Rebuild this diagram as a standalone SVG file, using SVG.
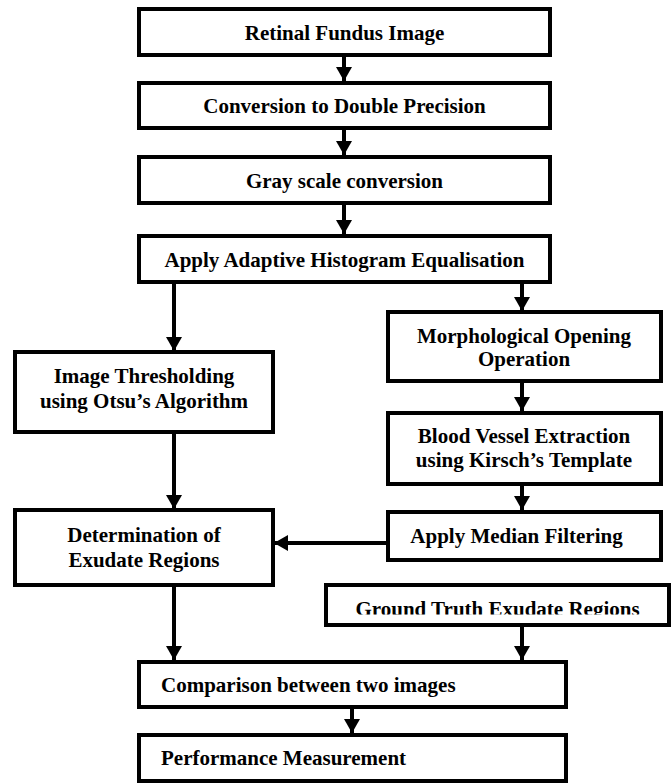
<svg xmlns="http://www.w3.org/2000/svg" width="672" height="784" viewBox="0 0 672 784">
<defs>
<style>
.box{fill:#fff;stroke:#000;stroke-width:4}
.t{font-family:"Liberation Serif","Times New Roman",serif;font-weight:bold;font-size:21px;fill:#000;text-anchor:middle}
.l{text-anchor:start}
.c{fill:none;stroke:#000;stroke-width:4}
</style>
<marker id="ah" viewBox="0 0 14 16" refX="14" refY="8" markerWidth="14" markerHeight="16" markerUnits="userSpaceOnUse" orient="auto">
<path d="M0,0 L14,8 L0,16 Z" fill="#000"/>
</marker>
<clipPath id="gclip"><rect x="326" y="585" width="343" height="29.5"/></clipPath>
</defs>
<rect width="672" height="784" fill="#fff"/>
<g id="connectors">
<line class="c" x1="344" y1="57" x2="344" y2="81" marker-end="url(#ah)"/>
<line class="c" x1="344" y1="130" x2="344" y2="155" marker-end="url(#ah)"/>
<line class="c" x1="344" y1="205" x2="344" y2="234" marker-end="url(#ah)"/>
<line class="c" x1="174" y1="284" x2="174" y2="351" marker-end="url(#ah)"/>
<line class="c" x1="522" y1="284" x2="522" y2="311" marker-end="url(#ah)"/>
<line class="c" x1="522" y1="383" x2="522" y2="411" marker-end="url(#ah)"/>
<line class="c" x1="522" y1="486" x2="522" y2="510" marker-end="url(#ah)"/>
<line class="c" x1="174" y1="434" x2="174" y2="509" marker-end="url(#ah)"/>
<line class="c" x1="388" y1="543" x2="274" y2="543" marker-end="url(#ah)"/>
<line class="c" x1="174" y1="586" x2="174" y2="660" marker-end="url(#ah)"/>
<line class="c" x1="522" y1="625" x2="522" y2="660" marker-end="url(#ah)"/>
<line class="c" x1="352" y1="709" x2="352" y2="733" marker-end="url(#ah)"/>
</g>
<g id="n1"><rect class="box" x="139" y="9" width="411" height="46"/><text class="t" x="344.5" y="40">Retinal Fundus Image</text></g>
<g id="n2"><rect class="box" x="139" y="83" width="411" height="45"/><text class="t" x="344.5" y="113">Conversion to Double Precision</text></g>
<g id="n3"><rect class="box" x="139" y="157" width="411" height="46"/><text class="t" x="344.5" y="188">Gray scale conversion</text></g>
<g id="n4"><rect class="box" x="139" y="236" width="411" height="46"/><text class="t" x="344.5" y="267">Apply Adaptive Histogram Equalisation</text></g>
<g id="n5"><rect class="box" x="15" y="352" width="258" height="80"/><text class="t" x="144" y="383">Image Thresholding</text><text class="t" x="144" y="408">using Otsu’s Algorithm</text></g>
<g id="n6"><rect class="box" x="388" y="312" width="273" height="69"/><text class="t" x="524" y="343">Morphological Opening</text><text class="t" x="524" y="366">Operation</text></g>
<g id="n7"><rect class="box" x="388" y="413" width="273" height="71"/><text class="t" x="524" y="443">Blood Vessel Extraction</text><text class="t" x="524" y="467">using Kirsch’s Template</text></g>
<g id="n8"><rect class="box" x="388" y="512" width="273" height="48"/><text class="t" x="516.5" y="543">Apply Median Filtering</text></g>
<g id="n9"><rect class="box" x="15" y="510" width="258" height="75"/><text class="t" x="144" y="542">Determination of</text><text class="t" x="144" y="567">Exudate Regions</text></g>
<g id="n10"><rect class="box" x="326" y="585" width="343" height="40"/><text class="t" x="497.5" y="616" clip-path="url(#gclip)">Ground Truth Exudate Regions</text></g>
<g id="n11"><rect class="box" x="139" y="662" width="427" height="45"/><text class="t l" x="161" y="692">Comparison between two images</text></g>
<g id="n12"><rect class="box" x="139" y="735" width="427" height="46"/><text class="t l" x="161" y="765">Performance Measurement</text></g>
</svg>
